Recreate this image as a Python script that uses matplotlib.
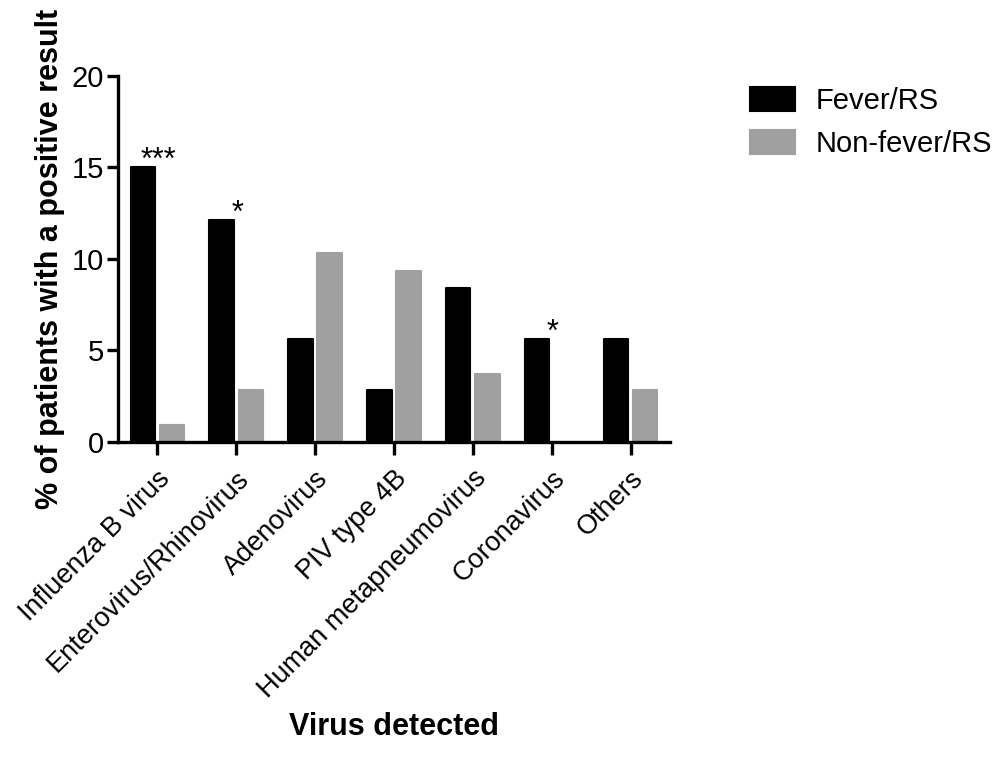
import matplotlib
matplotlib.use("Agg")
import matplotlib.pyplot as plt
import numpy as np

categories = ["Influenza B virus", "Enterovirus/Rhinovirus", "Adenovirus", "PIV type 4B",
              "Human metapneumovirus", "Coronavirus", "Others"]
fever = [15.0, 12.1, 5.6, 2.8, 8.4, 5.6, 5.6]
nonfever = [0.93, 2.8, 10.3, 9.3, 3.7, 0.0, 2.8]
significance = ["***", "*", "", "", "", "*", ""]
series_names = ["Fever/RS", "Non-fever/RS"]
yticks = [0, 5, 10, 15, 20]

plt.rcParams['font.family'] = ['Liberation Sans', 'DejaVu Sans']

fig = plt.figure(figsize=(9.93, 7.65), dpi=100)
ax = fig.add_axes([0.1188, 0.4226, 0.5559, 0.4785])

x = np.arange(len(categories))
w = 0.31
off = 0.185
b1 = ax.bar(x - off, fever, w, color='black', edgecolor='black', linewidth=1.5, joinstyle='round', label=series_names[0])
b2 = ax.bar(x + off, nonfever, w, color='#a0a0a0', edgecolor='#a0a0a0', linewidth=1.5, joinstyle='round', label=series_names[1])

for xi, v, s in zip(x, fever, significance):
    if s:
        ax.text(xi - off + 0.2, v - 0.08, s, ha='center', va='baseline', fontsize=22)

ax.set_xlim(-0.5, len(categories) - 0.5)
ax.set_ylim(0, 20)
ax.set_yticks(yticks)
ax.set_xticks(x)
ax.set_xticklabels(categories, rotation=45, ha='right', rotation_mode='anchor', fontsize=19.5)
ax.tick_params(axis='y', labelsize=21, width=2.4, length=8, pad=2)
ax.tick_params(axis='x', width=2.4, length=9, pad=8)
for side in ['top', 'right']:
    ax.spines[side].set_visible(False)
for side in ['left', 'bottom']:
    ax.spines[side].set_linewidth(2.4)

ax.set_ylabel("% of patients with a positive result", fontsize=22, fontweight='bold', labelpad=5)
ax.set_xlabel("Virus detected", fontsize=22, fontweight='bold', labelpad=6)

leg = fig.legend(handles=[b1, b2], loc='upper left', bbox_to_anchor=(750 / 993, 1 - 87 / 765),
                 frameon=False, fontsize=21, handlelength=1.55, handleheight=0.86,
                 handletextpad=0.7, labelspacing=0.52, borderpad=0, borderaxespad=0)

fig.savefig("out.png", dpi=100)
